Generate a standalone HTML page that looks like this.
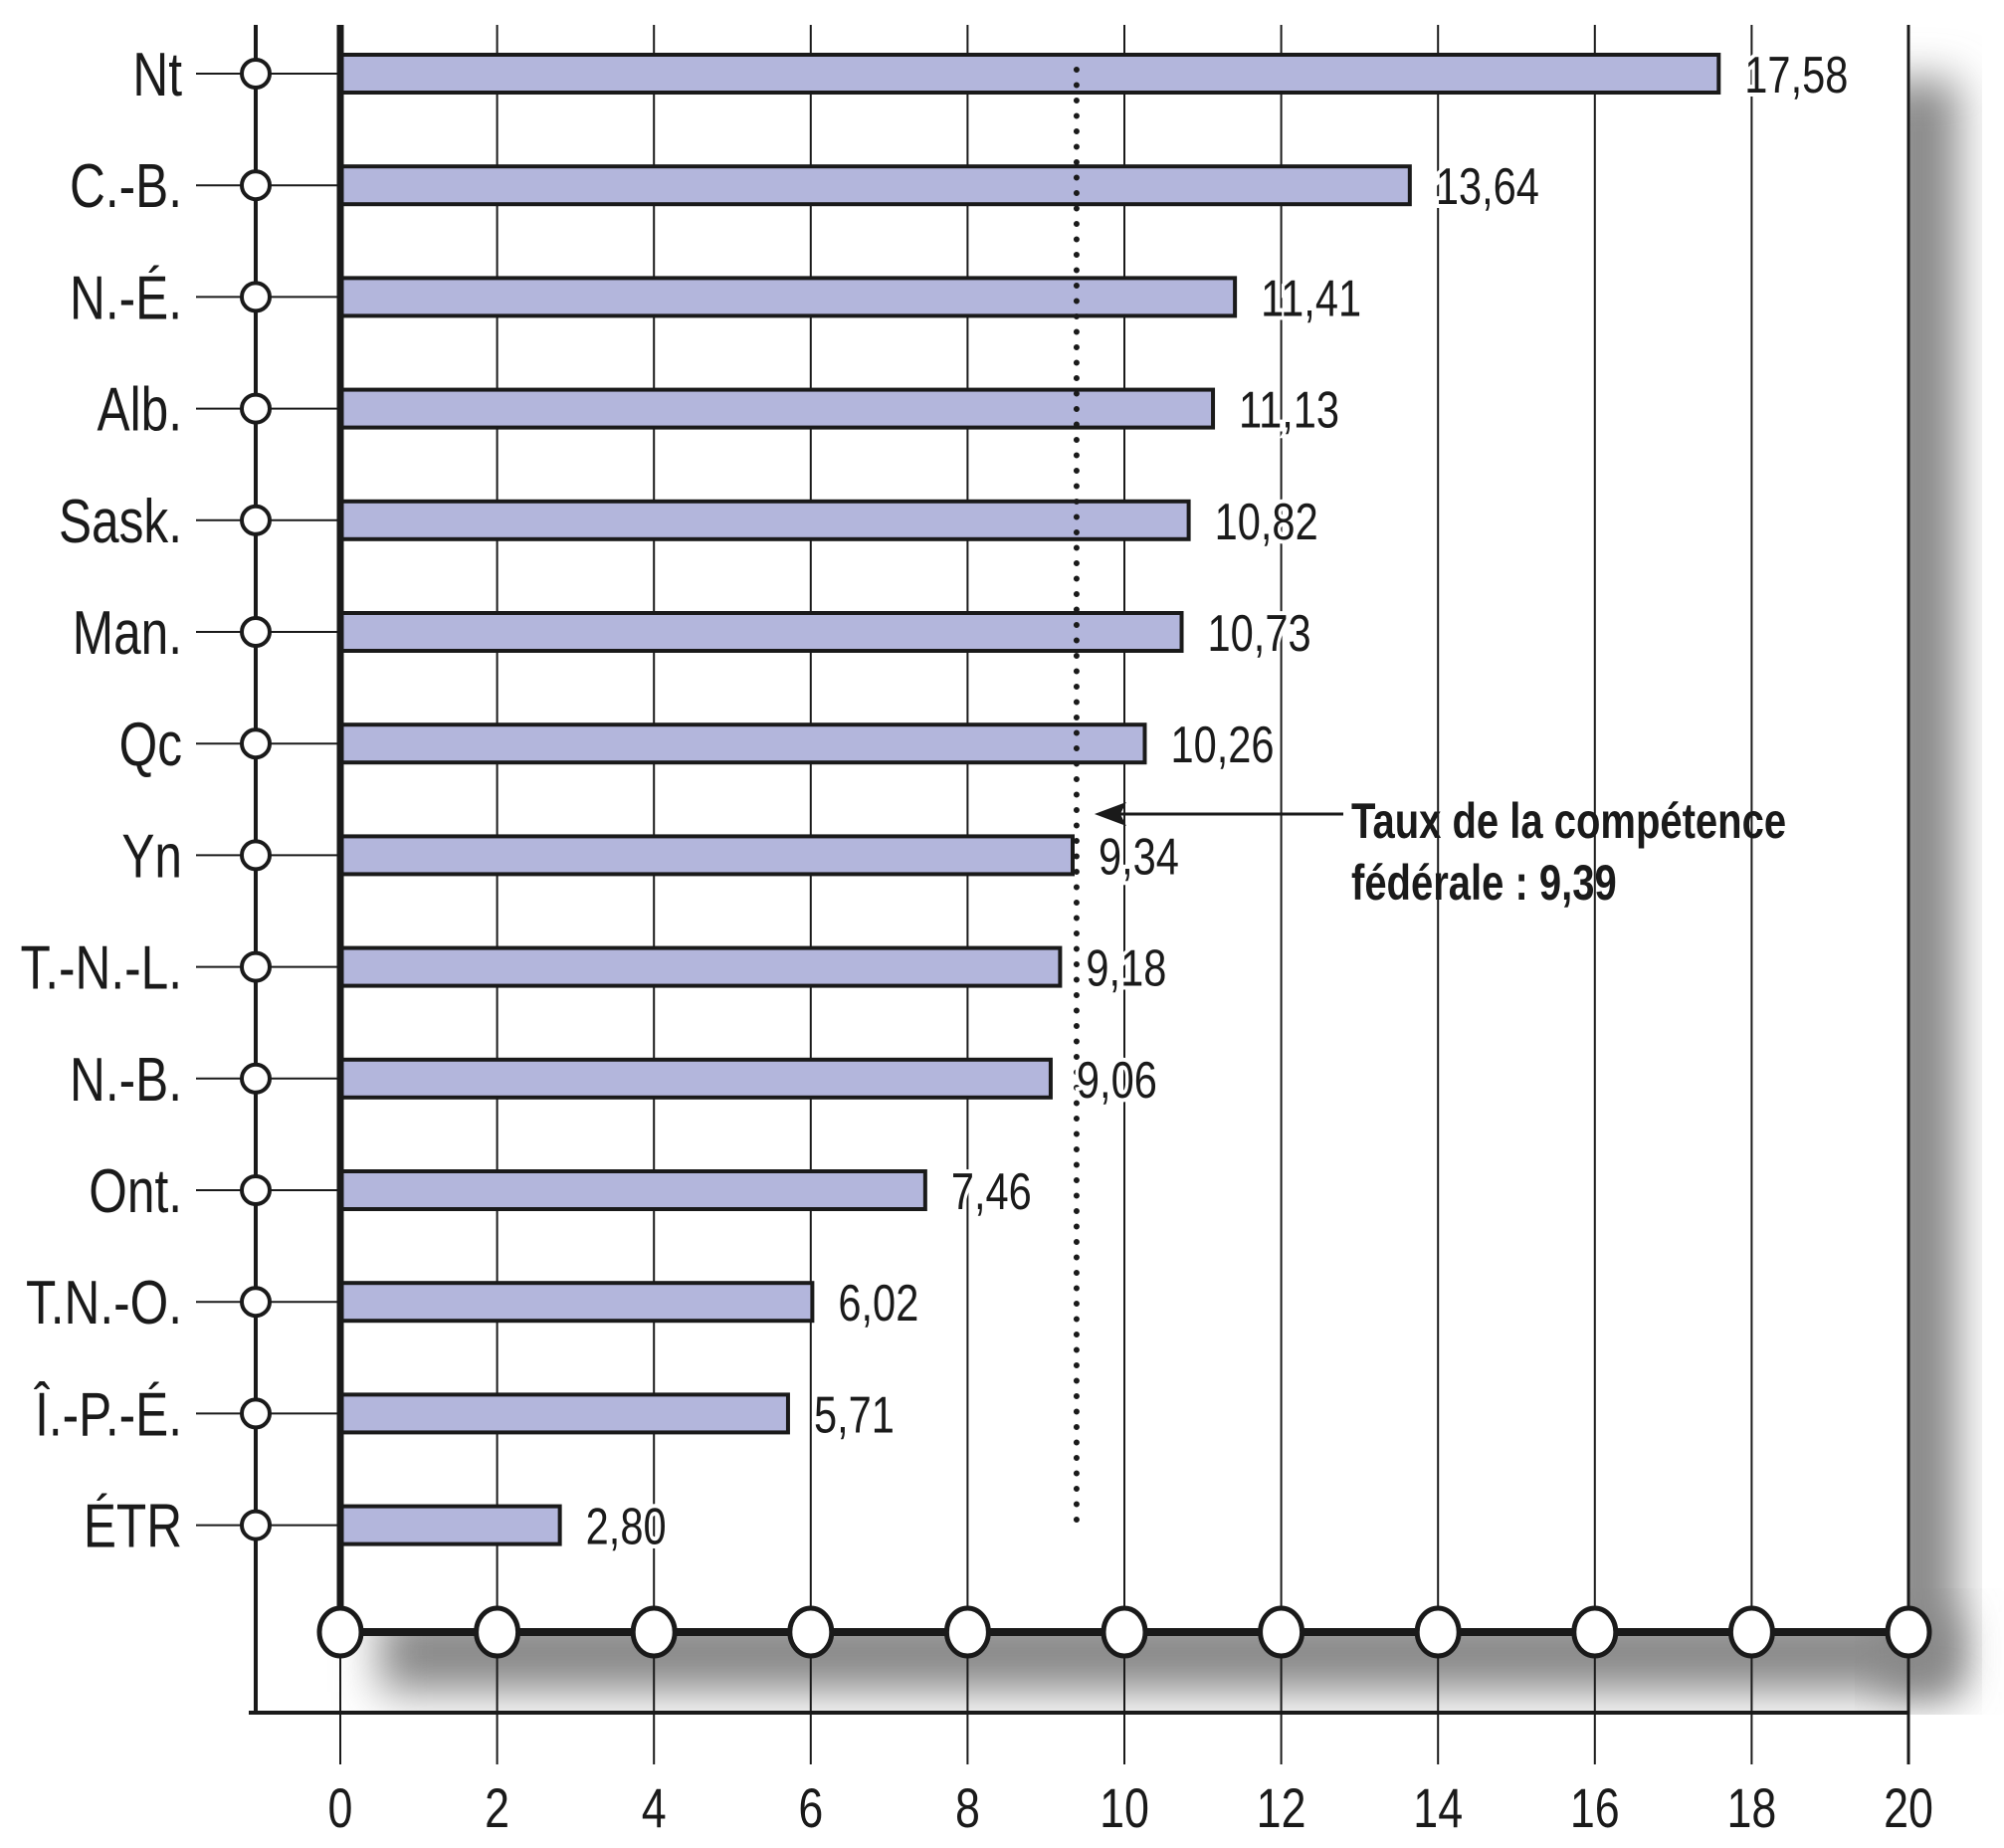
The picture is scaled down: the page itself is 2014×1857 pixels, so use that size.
<!DOCTYPE html>
<html><head><meta charset="utf-8"><style>
body{margin:0;background:#fff}
svg{display:block}
text{font-family:"Liberation Sans",sans-serif;fill:#1a1a1a}
</style></head><body>
<svg id="chart" width="2014" height="1857" viewBox="0 0 2014 1857">
<defs>
<filter id="blur" x="-30%" y="-30%" width="160%" height="160%"><feGaussianBlur stdDeviation="22"/></filter>
</defs>
<g id="shadow"></g>
<g id="grid"></g>
<g id="bars"></g>
<g id="axes"></g>
<g id="labels"></g>
</svg>
<script>
const categories=["Nt","C.-B.","N.-É.","Alb.","Sask.","Man.","Qc","Yn","T.-N.-L.","N.-B.","Ont.","T.N.-O.","Î.-P.-É.","ÉTR"];
const values=[17.58,13.64,11.41,11.13,10.82,10.73,10.26,9.34,9.18,9.06,7.46,6.02,5.71,2.80];
const valueLabels=["17,58","13,64","11,41","11,13","10,82","10,73","10,26","9,34","9,18","9,06","7,46","6,02","5,71","2,80"];
const ticks=[0,2,4,6,8,10,12,14,16,18,20];
const federalRate=9.39;

const NS="http://www.w3.org/2000/svg";
const x=v=>342+v*78.8;
const y=i=>74+i*112.2;
const SQ=0.8;
function mk(tag,attrs,parent,txt){const e=document.createElementNS(NS,tag);for(const k in attrs)e.setAttribute(k,attrs[k]);if(txt!==undefined)e.textContent=txt;parent.appendChild(e);return e;}
function tx(px,py,attrs,parent,txt){attrs.x=0;attrs.y=0;attrs.transform=`translate(${px},${py}) scale(${SQ},1)`;return mk('text',attrs,parent,txt);}
const gS=document.getElementById('shadow'),gG=document.getElementById('grid'),gB=document.getElementById('bars'),gA=document.getElementById('axes'),gL=document.getElementById('labels');

// shadow
let s1=mk('rect',{x:x(0)+40,y:1620,width:x(20)-x(0)+10,height:80,fill:'#888',filter:'url(#blur)'},gS);


let s2=mk('rect',{x:x(20)-30,y:80,width:80,height:1620,fill:'#888',filter:'url(#blur)'},gS);


mk('rect',{x:x(0)-5,y:0,width:x(20)-x(0)+5,height:1640,fill:'#fff'},gS);
mk('rect',{x:0,y:1723,width:2014,height:140,fill:'#fff'},gS);

// gridlines
ticks.forEach(t=>{
  const l=mk('line',{x1:x(t),x2:x(t),y1:25,y2:1773,stroke:'#1a1a1a','stroke-width':t===20?3:2},gG);
  
  
  const tl=tx(x(t),1836,{'font-size':56,'text-anchor':'middle'},gL,String(t));
  
  
});

// left category axis
mk('line',{x1:257,x2:257,y1:25,y2:1721,stroke:'#1a1a1a','stroke-width':4},gA);
mk('line',{x1:250,x2:x(20),y1:1721,y2:1721,stroke:'#1a1a1a','stroke-width':4},gA);

categories.forEach((c,i)=>{
  const yy=y(i);
  mk('line',{x1:197,x2:x(0),y1:yy,y2:yy,stroke:'#1a1a1a','stroke-width':2},gA);
  const ci=mk('circle',{cx:257,cy:yy,r:14,fill:'#fff',stroke:'#1a1a1a','stroke-width':4},gA);
  
  
  const r=mk('rect',{x:x(0),y:yy-19,width:x(values[i])-x(0),height:38,fill:'#b3b6dc',stroke:'#1a1a1a','stroke-width':4},gB);
  
  
  const cl=tx(183,yy+22,{'font-size':62,'text-anchor':'end'},gL,c);
  
  
  const vl=tx(x(values[i])+26,yy+19,{'font-size':52,stroke:'#fff','stroke-width':8,'paint-order':'stroke'},gL,valueLabels[i]);
  
  
});

// zero axis
mk('line',{x1:x(0),x2:x(0),y1:25,y2:1640,stroke:'#1a1a1a','stroke-width':7},gA);
mk('line',{x1:x(0),x2:x(20),y1:1640,y2:1640,stroke:'#1a1a1a','stroke-width':8},gA);
ticks.forEach(t=>{
  const e=mk('ellipse',{cx:x(t),cy:1640,rx:21,ry:24,fill:'#fff',stroke:'#1a1a1a','stroke-width':5},gA);
  
  
});

// federal rate line
const fl=mk('line',{x1:x(federalRate),x2:x(federalRate),y1:70,y2:1540,stroke:'#1a1a1a','stroke-width':6,'stroke-dasharray':'0 15.5','stroke-linecap':'round'},gA);


const ar=mk('line',{x1:1350,x2:x(federalRate)+30,y1:818,y2:818,stroke:'#1a1a1a','stroke-width':3},gA);


mk('polygon',{points:`${x(federalRate)+18},818 ${x(federalRate)+50},806 ${x(federalRate)+44},818 ${x(federalRate)+50},830`,fill:'#1a1a1a'},gA);
const a1=tx(1358,842,{'font-size':50,'font-weight':'bold'},gL,'Taux de la compétence');


const a2=tx(1358,904,{'font-size':50,'font-weight':'bold'},gL,'fédérale : 9,39');


</script>
</body></html>
